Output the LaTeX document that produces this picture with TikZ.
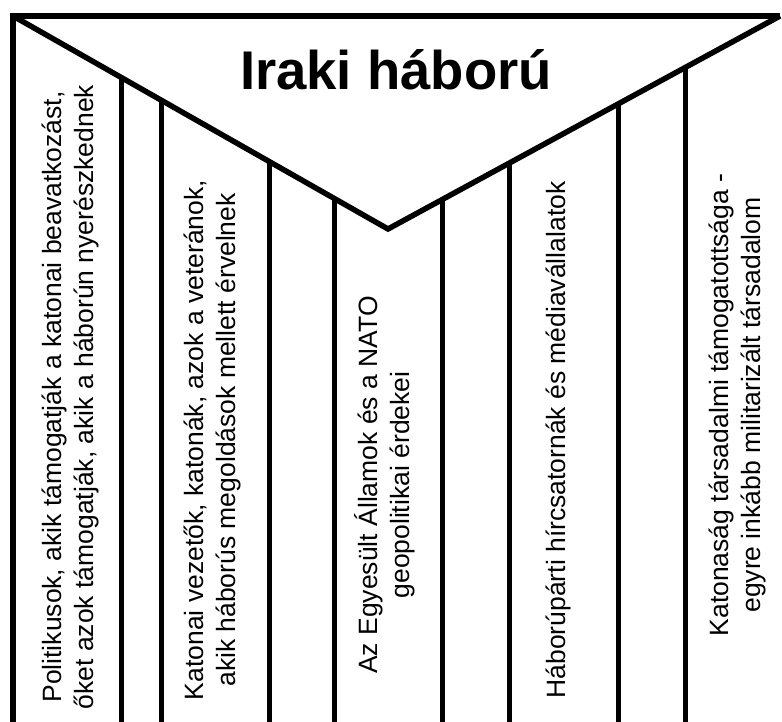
\documentclass[tikz,border=0pt]{standalone}
\usepackage{fontspec}
\setmainfont{Liberation Sans}
\usepackage{tikz}
\usetikzlibrary{calc}
\tikzset{frame/.style={line width=5.5pt,draw=black,line join=miter}}
\tikzset{bar/.style={line width=5pt,draw=black}}
\tikzset{colhead/.style={rotate=90,align=center,inner sep=0pt,font=\fontsize{26.5}{32}\selectfont}}
\tikzset{title/.style={inner sep=0pt,anchor=base,font=\fontsize{54.5}{60}\selectfont\bfseries}}

\begin{document}
\begin{tikzpicture}[x=1pt,y=-1pt]
  \useasboundingbox (0,0) rectangle (782,722);
  \coordinate (tl) at (13,16);
  \coordinate (tr) at (780,16);
  \coordinate (tip) at (388,229);
  \coordinate (bl) at (13,722);

  % outer frame and the V
  \draw[frame] (bl) -- (tl) -- (tr);
  \draw[frame] (tl) -- (tip) -- (tr);

  % dividers under the left slope
  \foreach \f/\n in {0.29/a,0.395/b,0.683/c,0.856/d}{
    \coordinate (L\n) at ($(tl)!\f!(tip)$);
    \draw[bar] (L\n) -- (L\n |- bl);
  }
  % dividers under the right slope
  \foreach \f/\n in {0.138/a,0.311/b,0.587/c,0.758/d}{
    \coordinate (R\n) at ($(tip)!\f!(tr)$);
    \draw[bar] (R\n) -- (R\n |- bl);
  }

  \node[title] (war) at (396,90) {Iraki háború};

  \node[colhead] (pol) at (70,397) {Politikusok, akik támogatják a katonai beavatkozást,\\
    őket azok támogatják, akik a háborún nyerészkednek};
  \node[colhead] (mil) at (212,440) {Katonai vezetők, katonák, azok a veteránok,\\
    akik háborús megoldások mellett érvelnek};
  \node[colhead] (geo) at (385,485) {Az Egyesült Államok és a NATO\\
    geopolitikai érdekei};
  \node[colhead] (med) at (558,440) {Háborúpárti hírcsatornák és médiavállalatok};
  \node[colhead] (soc) at (737,405) {Katonaság társadalmi támogatottsága -\\
    egyre inkább militarizált társadalom};
\end{tikzpicture}
\end{document}
